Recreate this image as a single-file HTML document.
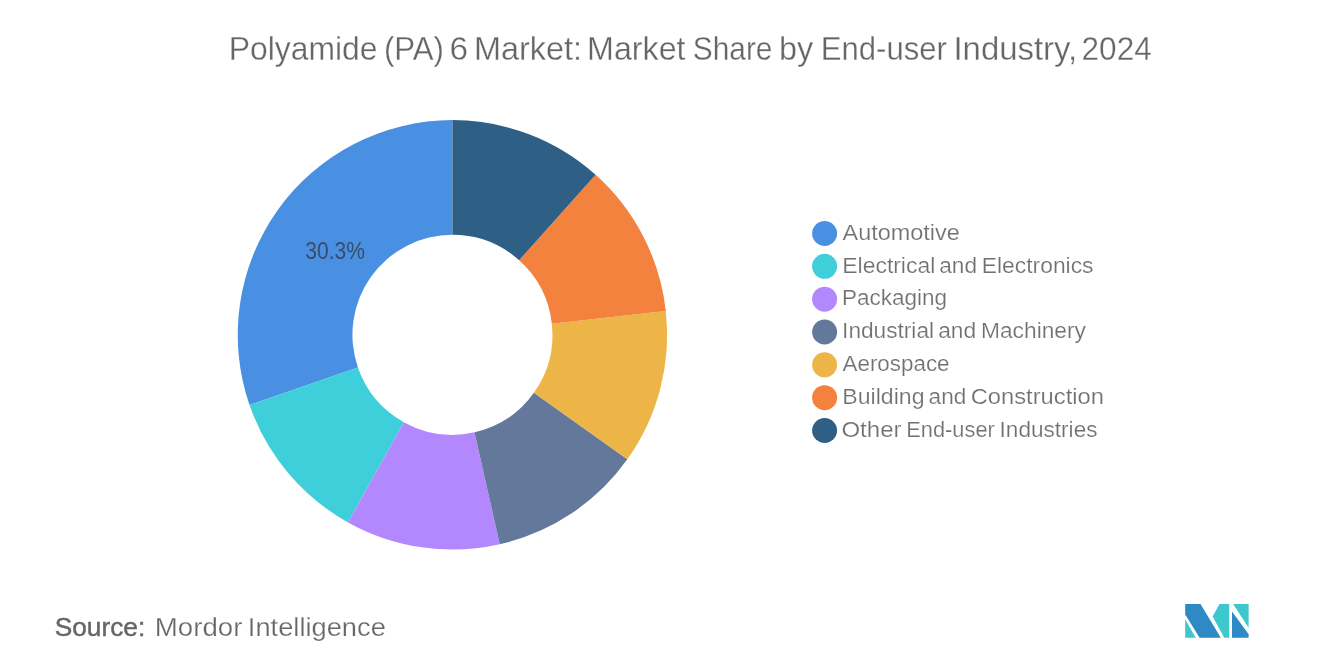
<!DOCTYPE html>
<html lang="en"><head><meta charset="utf-8"><title>Polyamide (PA) 6 Market</title>
<style>
html,body{margin:0;padding:0;background:#fff;}
body{width:1320px;height:665px;overflow:hidden;font-family:"Liberation Sans",sans-serif;}
svg{display:block;font-family:"Liberation Sans",sans-serif;}
</style></head><body>
<svg width="1320" height="665" viewBox="0 0 1320 665">
<rect width="1320" height="665" fill="#ffffff"/>
<text y="59.8" font-size="32.5" stroke="#ffffff" stroke-width="0.3" fill="#666666"><tspan x="228.80" textLength="148.77" lengthAdjust="spacingAndGlyphs">Polyamide</tspan> <tspan x="383.88" textLength="60.13" lengthAdjust="spacingAndGlyphs">(PA)</tspan> <tspan x="449.50" textLength="18.56" lengthAdjust="spacingAndGlyphs">6</tspan> <tspan x="473.96" textLength="108.15" lengthAdjust="spacingAndGlyphs">Market:</tspan> <tspan x="587.07" textLength="98.45" lengthAdjust="spacingAndGlyphs">Market</tspan> <tspan x="692.72" textLength="79.74" lengthAdjust="spacingAndGlyphs">Share</tspan> <tspan x="779.01" textLength="34.17" lengthAdjust="spacingAndGlyphs">by</tspan> <tspan x="820.87" textLength="126.03" lengthAdjust="spacingAndGlyphs">End-user</tspan> <tspan x="953.46" textLength="123.76" lengthAdjust="spacingAndGlyphs">Industry,</tspan> <tspan x="1081.60" textLength="70.13" lengthAdjust="spacingAndGlyphs">2024</tspan></text>
<path d="M452.45,120.10A214.7,214.7 0 0 0 249.54,404.98L357.94,367.49A100.0,100.0 0 0 1 452.45,234.80Z" fill="#4a90e2"/>
<path d="M249.54,404.98A214.7,214.7 0 0 0 348.03,522.40L403.82,422.18A100.0,100.0 0 0 1 357.94,367.49Z" fill="#3ecfdb"/>
<path d="M348.03,522.40A214.7,214.7 0 0 0 499.72,544.23L474.47,432.35A100.0,100.0 0 0 1 403.82,422.18Z" fill="#b388ff"/>
<path d="M499.72,544.23A214.7,214.7 0 0 0 627.33,459.35L533.90,392.81A100.0,100.0 0 0 1 474.47,432.35Z" fill="#64789b"/>
<path d="M627.33,459.35A214.7,214.7 0 0 0 665.83,311.02L551.83,323.72A100.0,100.0 0 0 1 533.90,392.81Z" fill="#edb548"/>
<path d="M665.83,311.02A214.7,214.7 0 0 0 595.61,174.80L519.13,260.28A100.0,100.0 0 0 1 551.83,323.72Z" fill="#f4823f"/>
<path d="M595.61,174.80A214.7,214.7 0 0 0 452.45,120.10L452.45,234.80A100.0,100.0 0 0 1 519.13,260.28Z" fill="#2f5f85"/>
<text y="258.7" font-size="23" fill="#364d6b"><tspan x="305.29" textLength="59.60" lengthAdjust="spacingAndGlyphs">30.3%</tspan></text>
<circle cx="824.6" cy="233.50" r="12.5" fill="#4a90e2"/>
<circle cx="824.6" cy="266.33" r="12.5" fill="#3ecfdb"/>
<circle cx="824.6" cy="299.16" r="12.5" fill="#b388ff"/>
<circle cx="824.6" cy="331.99" r="12.5" fill="#64789b"/>
<circle cx="824.6" cy="364.82" r="12.5" fill="#edb548"/>
<circle cx="824.6" cy="397.65" r="12.5" fill="#f4823f"/>
<circle cx="824.6" cy="430.48" r="12.5" fill="#2f5f85"/>
<text y="239.85" font-size="22.5" stroke="#ffffff" stroke-width="0.2" fill="#707070"><tspan x="842.50" textLength="117.31" lengthAdjust="spacingAndGlyphs">Automotive</tspan></text>
<text y="272.65" font-size="22.5" stroke="#ffffff" stroke-width="0.2" fill="#707070"><tspan x="842.32" textLength="92.94" lengthAdjust="spacingAndGlyphs">Electrical</tspan> <tspan x="939.29" textLength="37.76" lengthAdjust="spacingAndGlyphs">and</tspan> <tspan x="981.82" textLength="111.68" lengthAdjust="spacingAndGlyphs">Electronics</tspan></text>
<text y="305.45" font-size="22.5" stroke="#ffffff" stroke-width="0.2" fill="#707070"><tspan x="841.95" textLength="105.03" lengthAdjust="spacingAndGlyphs">Packaging</tspan></text>
<text y="338.25" font-size="22.5" stroke="#ffffff" stroke-width="0.2" fill="#707070"><tspan x="842.09" textLength="91.97" lengthAdjust="spacingAndGlyphs">Industrial</tspan> <tspan x="938.19" textLength="37.98" lengthAdjust="spacingAndGlyphs">and</tspan> <tspan x="981.03" textLength="104.92" lengthAdjust="spacingAndGlyphs">Machinery</tspan></text>
<text y="371.05" font-size="22.5" stroke="#ffffff" stroke-width="0.2" fill="#707070"><tspan x="842.50" textLength="107.07" lengthAdjust="spacingAndGlyphs">Aerospace</tspan></text>
<text y="403.85" font-size="22.5" stroke="#ffffff" stroke-width="0.2" fill="#707070"><tspan x="842.30" textLength="82.20" lengthAdjust="spacingAndGlyphs">Building</tspan> <tspan x="928.59" textLength="37.76" lengthAdjust="spacingAndGlyphs">and</tspan> <tspan x="970.68" textLength="133.27" lengthAdjust="spacingAndGlyphs">Construction</tspan></text>
<text y="436.65" font-size="22.5" stroke="#ffffff" stroke-width="0.2" fill="#707070"><tspan x="841.43" textLength="60.14" lengthAdjust="spacingAndGlyphs">Other</tspan> <tspan x="906.30" textLength="88.48" lengthAdjust="spacingAndGlyphs">End-user</tspan> <tspan x="999.59" textLength="97.92" lengthAdjust="spacingAndGlyphs">Industries</tspan></text>
<text y="635.7" font-size="26.5" stroke="#666666" stroke-width="0.45" fill="#666666"><tspan x="54.66" textLength="90.55" lengthAdjust="spacingAndGlyphs">Source:</tspan></text>
<text y="635.7" font-size="26.5" stroke="#ffffff" stroke-width="0.25" fill="#666666"><tspan x="154.85" textLength="87.52" lengthAdjust="spacingAndGlyphs">Mordor</tspan> <tspan x="247.83" textLength="138.04" lengthAdjust="spacingAndGlyphs">Intelligence</tspan></text>
<g>
<polygon points="1185.2,604 1200.5,604 1220.8,637.7 1199.6,637.7 1185.2,614.4" fill="#2d8ac5"/>
<polygon points="1185.2,619.2 1185.2,637.7 1195.7,637.7" fill="#3cc8cc"/>
<polygon points="1219.5,604 1229.2,604 1229.2,637.7 1224.3,637.7 1212.6,616.6" fill="#3cc8cc"/>
<polygon points="1233.1,604 1248.6,604 1248.6,627.8" fill="#3cc8cc"/>
<polygon points="1232,611.5 1232,637.7 1248.6,637.7 1248.6,634.2" fill="#2d8ac5"/>
</g>
</svg>
</body></html>
